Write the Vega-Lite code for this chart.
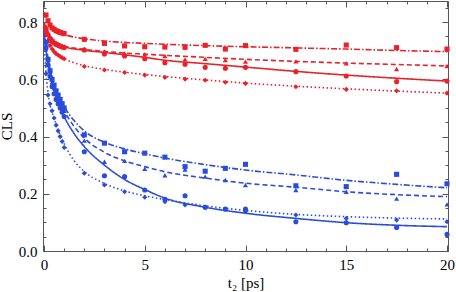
{
  "$schema": "https://vega.github.io/schema/vega-lite/v6.json",
  "width": 405,
  "height": 250,
  "autosize": {"type": "none"},
  "padding": {"left": 43, "top": 1, "right": 8, "bottom": 41},
  "config": {"view": {"stroke": null}, "font": "Liberation Serif"},
  "datasets": {
    "pts": [
      {"g":"r","s":"sq","t":0.1,"v":0.825},{"g":"r","s":"sq","t":0.2,"v":0.805},{"g":"r","s":"sq","t":0.3,"v":0.79},{"g":"r","s":"sq","t":0.4,"v":0.78},{"g":"r","s":"sq","t":0.5,"v":0.775},{"g":"r","s":"sq","t":0.6,"v":0.77},{"g":"r","s":"sq","t":0.7,"v":0.767},{"g":"r","s":"sq","t":0.8,"v":0.764},{"g":"r","s":"sq","t":0.9,"v":0.762},{"g":"r","s":"sq","t":1.0,"v":0.76},{"g":"r","s":"sq","t":2,"v":0.74},{"g":"r","s":"sq","t":3,"v":0.726},{"g":"r","s":"sq","t":4,"v":0.717},{"g":"r","s":"sq","t":5,"v":0.714},{"g":"r","s":"sq","t":6,"v":0.713},{"g":"r","s":"sq","t":7,"v":0.712},{"g":"r","s":"sq","t":8,"v":0.719},{"g":"r","s":"sq","t":9,"v":0.706},{"g":"r","s":"sq","t":10,"v":0.718},{"g":"r","s":"sq","t":12.5,"v":0.705},{"g":"r","s":"sq","t":15,"v":0.72},{"g":"r","s":"sq","t":17.5,"v":0.711},{"g":"r","s":"sq","t":20,"v":0.706},
      {"g":"r","s":"tr","t":0.1,"v":0.785},{"g":"r","s":"tr","t":0.2,"v":0.765},{"g":"r","s":"tr","t":0.3,"v":0.75},{"g":"r","s":"tr","t":0.4,"v":0.74},{"g":"r","s":"tr","t":0.5,"v":0.733},{"g":"r","s":"tr","t":0.6,"v":0.728},{"g":"r","s":"tr","t":0.7,"v":0.724},{"g":"r","s":"tr","t":0.8,"v":0.72},{"g":"r","s":"tr","t":0.9,"v":0.718},{"g":"r","s":"tr","t":1.0,"v":0.716},{"g":"r","s":"tr","t":2,"v":0.705},{"g":"r","s":"tr","t":3,"v":0.698},{"g":"r","s":"tr","t":4,"v":0.691},{"g":"r","s":"tr","t":5,"v":0.688},{"g":"r","s":"tr","t":6,"v":0.682},{"g":"r","s":"tr","t":7,"v":0.67},{"g":"r","s":"tr","t":8,"v":0.672},{"g":"r","s":"tr","t":9,"v":0.668},{"g":"r","s":"tr","t":10,"v":0.662},{"g":"r","s":"tr","t":12.5,"v":0.663},{"g":"r","s":"tr","t":15,"v":0.656},{"g":"r","s":"tr","t":17.5,"v":0.636},{"g":"r","s":"tr","t":20,"v":0.647},
      {"g":"r","s":"ci","t":0.1,"v":0.775},{"g":"r","s":"ci","t":0.2,"v":0.755},{"g":"r","s":"ci","t":0.3,"v":0.742},{"g":"r","s":"ci","t":0.4,"v":0.733},{"g":"r","s":"ci","t":0.5,"v":0.727},{"g":"r","s":"ci","t":0.6,"v":0.722},{"g":"r","s":"ci","t":0.7,"v":0.719},{"g":"r","s":"ci","t":0.8,"v":0.716},{"g":"r","s":"ci","t":0.9,"v":0.713},{"g":"r","s":"ci","t":1.0,"v":0.711},{"g":"r","s":"ci","t":2,"v":0.703},{"g":"r","s":"ci","t":3,"v":0.689},{"g":"r","s":"ci","t":4,"v":0.682},{"g":"r","s":"ci","t":5,"v":0.672},{"g":"r","s":"ci","t":6,"v":0.658},{"g":"r","s":"ci","t":7,"v":0.653},{"g":"r","s":"ci","t":8,"v":0.642},{"g":"r","s":"ci","t":9,"v":0.639},{"g":"r","s":"ci","t":10,"v":0.642},{"g":"r","s":"ci","t":12.5,"v":0.627},{"g":"r","s":"ci","t":15,"v":0.612},{"g":"r","s":"ci","t":17.5,"v":0.592},{"g":"r","s":"ci","t":20,"v":0.594},
      {"g":"r","s":"di","t":0.1,"v":0.76},{"g":"r","s":"di","t":0.2,"v":0.735},{"g":"r","s":"di","t":0.3,"v":0.718},{"g":"r","s":"di","t":0.4,"v":0.706},{"g":"r","s":"di","t":0.5,"v":0.697},{"g":"r","s":"di","t":0.6,"v":0.69},{"g":"r","s":"di","t":0.7,"v":0.685},{"g":"r","s":"di","t":0.8,"v":0.68},{"g":"r","s":"di","t":0.9,"v":0.676},{"g":"r","s":"di","t":1.0,"v":0.672},{"g":"r","s":"di","t":2,"v":0.645},{"g":"r","s":"di","t":3,"v":0.633},{"g":"r","s":"di","t":4,"v":0.624},{"g":"r","s":"di","t":5,"v":0.615},{"g":"r","s":"di","t":6,"v":0.607},{"g":"r","s":"di","t":7,"v":0.601},{"g":"r","s":"di","t":8,"v":0.597},{"g":"r","s":"di","t":9,"v":0.59},{"g":"r","s":"di","t":10,"v":0.586},{"g":"r","s":"di","t":12.5,"v":0.574},{"g":"r","s":"di","t":15,"v":0.565},{"g":"r","s":"di","t":17.5,"v":0.56},{"g":"r","s":"di","t":20,"v":0.552},
      {"g":"b","s":"sq","t":0.1,"v":0.73},{"g":"b","s":"sq","t":0.2,"v":0.67},{"g":"b","s":"sq","t":0.3,"v":0.63},{"g":"b","s":"sq","t":0.4,"v":0.6},{"g":"b","s":"sq","t":0.5,"v":0.58},{"g":"b","s":"sq","t":0.6,"v":0.56},{"g":"b","s":"sq","t":0.7,"v":0.545},{"g":"b","s":"sq","t":0.8,"v":0.53},{"g":"b","s":"sq","t":0.9,"v":0.515},{"g":"b","s":"sq","t":1.0,"v":0.5},{"g":"b","s":"sq","t":2,"v":0.406},{"g":"b","s":"sq","t":3,"v":0.377},{"g":"b","s":"sq","t":4,"v":0.347},{"g":"b","s":"sq","t":5,"v":0.342},{"g":"b","s":"sq","t":6,"v":0.328},{"g":"b","s":"sq","t":7,"v":0.295},{"g":"b","s":"sq","t":8,"v":0.279},{"g":"b","s":"sq","t":9,"v":0.289},{"g":"b","s":"sq","t":10,"v":0.303},{"g":"b","s":"sq","t":12.5,"v":0.228},{"g":"b","s":"sq","t":15,"v":0.225},{"g":"b","s":"sq","t":17.5,"v":0.268},{"g":"b","s":"sq","t":20,"v":0.235},
      {"g":"b","s":"tr","t":0.1,"v":0.72},{"g":"b","s":"tr","t":0.2,"v":0.66},{"g":"b","s":"tr","t":0.3,"v":0.62},{"g":"b","s":"tr","t":0.4,"v":0.59},{"g":"b","s":"tr","t":0.5,"v":0.57},{"g":"b","s":"tr","t":0.6,"v":0.55},{"g":"b","s":"tr","t":0.7,"v":0.535},{"g":"b","s":"tr","t":0.8,"v":0.52},{"g":"b","s":"tr","t":0.9,"v":0.505},{"g":"b","s":"tr","t":1.0,"v":0.49},{"g":"b","s":"tr","t":2,"v":0.386},{"g":"b","s":"tr","t":3,"v":0.312},{"g":"b","s":"tr","t":4,"v":0.315},{"g":"b","s":"tr","t":5,"v":0.287},{"g":"b","s":"tr","t":6,"v":0.265},{"g":"b","s":"tr","t":7,"v":0.285},{"g":"b","s":"tr","t":8,"v":0.26},{"g":"b","s":"tr","t":9,"v":0.248},{"g":"b","s":"tr","t":10,"v":0.231},{"g":"b","s":"tr","t":12.5,"v":0.213},{"g":"b","s":"tr","t":15,"v":0.207},{"g":"b","s":"tr","t":17.5,"v":0.183},{"g":"b","s":"tr","t":20,"v":0.163},
      {"g":"b","s":"ci","t":0.1,"v":0.71},{"g":"b","s":"ci","t":0.2,"v":0.65},{"g":"b","s":"ci","t":0.3,"v":0.61},{"g":"b","s":"ci","t":0.4,"v":0.575},{"g":"b","s":"ci","t":0.5,"v":0.55},{"g":"b","s":"ci","t":0.6,"v":0.53},{"g":"b","s":"ci","t":0.7,"v":0.515},{"g":"b","s":"ci","t":0.8,"v":0.5},{"g":"b","s":"ci","t":0.9,"v":0.485},{"g":"b","s":"ci","t":1.0,"v":0.47},{"g":"b","s":"ci","t":2,"v":0.347},{"g":"b","s":"ci","t":3,"v":0.263},{"g":"b","s":"ci","t":4,"v":0.26},{"g":"b","s":"ci","t":5,"v":0.213},{"g":"b","s":"ci","t":6,"v":0.181},{"g":"b","s":"ci","t":7,"v":0.193},{"g":"b","s":"ci","t":8,"v":0.153},{"g":"b","s":"ci","t":9,"v":0.147},{"g":"b","s":"ci","t":10,"v":0.147},{"g":"b","s":"ci","t":12.5,"v":0.102},{"g":"b","s":"ci","t":15,"v":0.099},{"g":"b","s":"ci","t":17.5,"v":0.082},{"g":"b","s":"ci","t":20,"v":0.058},
      {"g":"b","s":"di","t":0.1,"v":0.62},{"g":"b","s":"di","t":0.2,"v":0.545},{"g":"b","s":"di","t":0.3,"v":0.515},{"g":"b","s":"di","t":0.4,"v":0.49},{"g":"b","s":"di","t":0.5,"v":0.465},{"g":"b","s":"di","t":0.6,"v":0.44},{"g":"b","s":"di","t":0.7,"v":0.42},{"g":"b","s":"di","t":0.8,"v":0.4},{"g":"b","s":"di","t":0.9,"v":0.383},{"g":"b","s":"di","t":1.0,"v":0.362},{"g":"b","s":"di","t":2,"v":0.272},{"g":"b","s":"di","t":3,"v":0.231},{"g":"b","s":"di","t":4,"v":0.207},{"g":"b","s":"di","t":5,"v":0.188},{"g":"b","s":"di","t":6,"v":0.172},{"g":"b","s":"di","t":7,"v":0.161},{"g":"b","s":"di","t":8,"v":0.153},{"g":"b","s":"di","t":9,"v":0.146},{"g":"b","s":"di","t":10,"v":0.137},{"g":"b","s":"di","t":12.5,"v":0.126},{"g":"b","s":"di","t":15,"v":0.114},{"g":"b","s":"di","t":17.5,"v":0.108},{"g":"b","s":"di","t":20,"v":0.102}
    ],
    "fit": [
      {"g":"r","s":"sq","t":0,"v":0.835},{"g":"r","s":"sq","t":0.1,"v":0.815},{"g":"r","s":"sq","t":0.25,"v":0.795},{"g":"r","s":"sq","t":0.5,"v":0.777},{"g":"r","s":"sq","t":1,"v":0.758},{"g":"r","s":"sq","t":2,"v":0.742},{"g":"r","s":"sq","t":3,"v":0.734},{"g":"r","s":"sq","t":5,"v":0.726},{"g":"r","s":"sq","t":8,"v":0.718},{"g":"r","s":"sq","t":10,"v":0.714},{"g":"r","s":"sq","t":12.5,"v":0.71},{"g":"r","s":"sq","t":15,"v":0.706},{"g":"r","s":"sq","t":17.5,"v":0.701},{"g":"r","s":"sq","t":20,"v":0.697},
      {"g":"r","s":"tr","t":0,"v":0.8},{"g":"r","s":"tr","t":0.1,"v":0.78},{"g":"r","s":"tr","t":0.25,"v":0.757},{"g":"r","s":"tr","t":0.5,"v":0.737},{"g":"r","s":"tr","t":1,"v":0.717},{"g":"r","s":"tr","t":2,"v":0.705},{"g":"r","s":"tr","t":3,"v":0.698},{"g":"r","s":"tr","t":4,"v":0.692},{"g":"r","s":"tr","t":5,"v":0.688},{"g":"r","s":"tr","t":6,"v":0.684},{"g":"r","s":"tr","t":8,"v":0.677},{"g":"r","s":"tr","t":10,"v":0.67},{"g":"r","s":"tr","t":12.5,"v":0.663},{"g":"r","s":"tr","t":15,"v":0.657},{"g":"r","s":"tr","t":17.5,"v":0.652},{"g":"r","s":"tr","t":20,"v":0.647},
      {"g":"r","s":"ci","t":0,"v":0.79},{"g":"r","s":"ci","t":0.1,"v":0.77},{"g":"r","s":"ci","t":0.25,"v":0.75},{"g":"r","s":"ci","t":0.5,"v":0.731},{"g":"r","s":"ci","t":1,"v":0.714},{"g":"r","s":"ci","t":2,"v":0.702},{"g":"r","s":"ci","t":3,"v":0.694},{"g":"r","s":"ci","t":4,"v":0.686},{"g":"r","s":"ci","t":5,"v":0.677},{"g":"r","s":"ci","t":6,"v":0.667},{"g":"r","s":"ci","t":8,"v":0.655},{"g":"r","s":"ci","t":10,"v":0.643},{"g":"r","s":"ci","t":12.5,"v":0.628},{"g":"r","s":"ci","t":15,"v":0.615},{"g":"r","s":"ci","t":17.5,"v":0.604},{"g":"r","s":"ci","t":20,"v":0.594},
      {"g":"r","s":"di","t":0,"v":0.785},{"g":"r","s":"di","t":0.1,"v":0.76},{"g":"r","s":"di","t":0.25,"v":0.73},{"g":"r","s":"di","t":0.5,"v":0.702},{"g":"r","s":"di","t":0.75,"v":0.685},{"g":"r","s":"di","t":1,"v":0.673},{"g":"r","s":"di","t":1.5,"v":0.658},{"g":"r","s":"di","t":2,"v":0.648},{"g":"r","s":"di","t":3,"v":0.635},{"g":"r","s":"di","t":4,"v":0.625},{"g":"r","s":"di","t":5,"v":0.617},{"g":"r","s":"di","t":6,"v":0.61},{"g":"r","s":"di","t":8,"v":0.598},{"g":"r","s":"di","t":10,"v":0.587},{"g":"r","s":"di","t":12.5,"v":0.576},{"g":"r","s":"di","t":15,"v":0.567},{"g":"r","s":"di","t":17.5,"v":0.559},{"g":"r","s":"di","t":20,"v":0.552},
      {"g":"b","s":"sq","t":0,"v":0.77},{"g":"b","s":"sq","t":0.1,"v":0.72},{"g":"b","s":"sq","t":0.25,"v":0.655},{"g":"b","s":"sq","t":0.5,"v":0.585},{"g":"b","s":"sq","t":0.75,"v":0.54},{"g":"b","s":"sq","t":1,"v":0.505},{"g":"b","s":"sq","t":1.5,"v":0.455},{"g":"b","s":"sq","t":2,"v":0.42},{"g":"b","s":"sq","t":3,"v":0.38},{"g":"b","s":"sq","t":4,"v":0.357},{"g":"b","s":"sq","t":5,"v":0.34},{"g":"b","s":"sq","t":6,"v":0.325},{"g":"b","s":"sq","t":8,"v":0.302},{"g":"b","s":"sq","t":10,"v":0.283},{"g":"b","s":"sq","t":12.5,"v":0.266},{"g":"b","s":"sq","t":15,"v":0.247},{"g":"b","s":"sq","t":17.5,"v":0.233},{"g":"b","s":"sq","t":20,"v":0.221},
      {"g":"b","s":"tr","t":0,"v":0.77},{"g":"b","s":"tr","t":0.1,"v":0.71},{"g":"b","s":"tr","t":0.25,"v":0.645},{"g":"b","s":"tr","t":0.5,"v":0.575},{"g":"b","s":"tr","t":0.75,"v":0.525},{"g":"b","s":"tr","t":1,"v":0.49},{"g":"b","s":"tr","t":1.5,"v":0.435},{"g":"b","s":"tr","t":2,"v":0.395},{"g":"b","s":"tr","t":3,"v":0.345},{"g":"b","s":"tr","t":4,"v":0.315},{"g":"b","s":"tr","t":5,"v":0.295},{"g":"b","s":"tr","t":6,"v":0.277},{"g":"b","s":"tr","t":8,"v":0.255},{"g":"b","s":"tr","t":10,"v":0.237},{"g":"b","s":"tr","t":12.5,"v":0.223},{"g":"b","s":"tr","t":15,"v":0.207},{"g":"b","s":"tr","t":17.5,"v":0.197},{"g":"b","s":"tr","t":20,"v":0.19},
      {"g":"b","s":"ci","t":0,"v":0.77},{"g":"b","s":"ci","t":0.1,"v":0.7},{"g":"b","s":"ci","t":0.25,"v":0.635},{"g":"b","s":"ci","t":0.5,"v":0.56},{"g":"b","s":"ci","t":0.75,"v":0.51},{"g":"b","s":"ci","t":1,"v":0.47},{"g":"b","s":"ci","t":1.5,"v":0.41},{"g":"b","s":"ci","t":2,"v":0.365},{"g":"b","s":"ci","t":3,"v":0.3},{"g":"b","s":"ci","t":4,"v":0.25},{"g":"b","s":"ci","t":5,"v":0.215},{"g":"b","s":"ci","t":6,"v":0.185},{"g":"b","s":"ci","t":8,"v":0.153},{"g":"b","s":"ci","t":10,"v":0.132},{"g":"b","s":"ci","t":12.5,"v":0.114},{"g":"b","s":"ci","t":15,"v":0.099},{"g":"b","s":"ci","t":17.5,"v":0.09},{"g":"b","s":"ci","t":20,"v":0.085},
      {"g":"b","s":"di","t":0,"v":0.73},{"g":"b","s":"di","t":0.1,"v":0.62},{"g":"b","s":"di","t":0.25,"v":0.53},{"g":"b","s":"di","t":0.5,"v":0.465},{"g":"b","s":"di","t":0.75,"v":0.415},{"g":"b","s":"di","t":1,"v":0.375},{"g":"b","s":"di","t":1.5,"v":0.315},{"g":"b","s":"di","t":2,"v":0.278},{"g":"b","s":"di","t":3,"v":0.236},{"g":"b","s":"di","t":4,"v":0.21},{"g":"b","s":"di","t":5,"v":0.193},{"g":"b","s":"di","t":6,"v":0.18},{"g":"b","s":"di","t":8,"v":0.158},{"g":"b","s":"di","t":10,"v":0.142},{"g":"b","s":"di","t":12.5,"v":0.128},{"g":"b","s":"di","t":15,"v":0.12},{"g":"b","s":"di","t":17.5,"v":0.115},{"g":"b","s":"di","t":20,"v":0.112}
    ]
  },
  "resolve": {"axis": {"x": "independent", "y": "independent"}},
  "layer": [
    {
      "data": {"name": "fit"},
      "mark": {"type": "line", "interpolate": "monotone", "strokeWidth": 1.6},
      "encoding": {
        "x": {"field": "t", "type": "quantitative", "scale": {"domain": [-0.05, 20.05], "nice": false, "zero": false},
              "axis": {"orient": "bottom", "values": [0, 5, 10, 15, 20], "title": "t₂ [ps]", "titleFont": "Liberation Serif", "titleFontSize": 15, "titleFontWeight": "normal", "titleColor": "#000", "titlePadding": 3,
                       "labelFont": "Liberation Serif", "labelFontSize": 15, "labelColor": "#000", "labelPadding": 12, "tickSize": -6, "tickColor": "#555", "domainColor": "#555", "domainWidth": 1, "grid": false}},
        "y": {"field": "v", "type": "quantitative", "scale": {"domain": [0, 0.874], "nice": false, "zero": false},
              "axis": {"orient": "left", "values": [0, 0.2, 0.4, 0.6, 0.8], "format": ".1f", "title": "CLS", "titleFont": "Liberation Serif", "titleFontSize": 15, "titleFontWeight": "normal", "titleColor": "#000", "titlePadding": 4,
                       "labelFont": "Liberation Serif", "labelFontSize": 15, "labelColor": "#000", "labelPadding": 12, "tickSize": -6, "tickColor": "#555", "domainColor": "#555", "domainWidth": 1, "grid": false}},
        "color": {"field": "g", "type": "nominal", "scale": {"domain": ["r", "b"], "range": ["#e8212a", "#2b4cdb"]}, "legend": null},
        "strokeDash": {"field": "s", "type": "nominal", "scale": {"domain": ["sq", "tr", "ci", "di"], "range": [[6, 2, 1.5, 2], [5, 3], [1, 0], [1.5, 2.5]]}, "legend": null},
        "detail": {"field": "g"}
      }
    },
    {
      "data": {"name": "pts"},
      "mark": {"type": "point", "filled": true, "opacity": 1, "size": 26},
      "encoding": {
        "x": {"field": "t", "type": "quantitative", "axis": {"orient": "top", "values": [0, 5, 10, 15, 20], "labels": false, "title": null, "tickSize": -6, "tickColor": "#555", "domainColor": "#555", "grid": false}},
        "y": {"field": "v", "type": "quantitative", "axis": {"orient": "right", "values": [0, 0.2, 0.4, 0.6, 0.8], "labels": false, "title": null, "tickSize": -6, "tickColor": "#555", "domainColor": "#555", "grid": false}},
        "color": {"field": "g", "type": "nominal", "legend": null},
        "shape": {"field": "s", "type": "nominal", "scale": {"domain": ["sq", "tr", "ci", "di"], "range": ["square", "triangle-up", "circle", "diamond"]}, "legend": null}
      }
    },
    {
      "data": {"name": "pts"},
      "mark": {"type": "point", "opacity": 0},
      "encoding": {
        "x": {"field": "t", "type": "quantitative", "axis": {"orient": "bottom", "values": [1,2,3,4,6,7,8,9,11,12,13,14,16,17,18,19], "labels": false, "title": null, "domain": false, "tickSize": -3, "tickColor": "#555", "grid": false}},
        "y": {"field": "v", "type": "quantitative", "axis": {"orient": "left", "values": [0.05,0.1,0.15,0.25,0.3,0.35,0.45,0.5,0.55,0.65,0.7,0.75,0.85], "labels": false, "title": null, "domain": false, "tickSize": -3, "tickColor": "#555", "grid": false}}
      }
    },
    {
      "data": {"name": "pts"},
      "mark": {"type": "point", "opacity": 0},
      "encoding": {
        "x": {"field": "t", "type": "quantitative", "axis": {"orient": "top", "values": [1,2,3,4,6,7,8,9,11,12,13,14,16,17,18,19], "labels": false, "title": null, "domain": false, "tickSize": -3, "tickColor": "#555", "grid": false}},
        "y": {"field": "v", "type": "quantitative", "axis": {"orient": "right", "values": [0.05,0.1,0.15,0.25,0.3,0.35,0.45,0.5,0.55,0.65,0.7,0.75,0.85], "labels": false, "title": null, "domain": false, "tickSize": -3, "tickColor": "#555", "grid": false}}
      }
    }
  ]
}
